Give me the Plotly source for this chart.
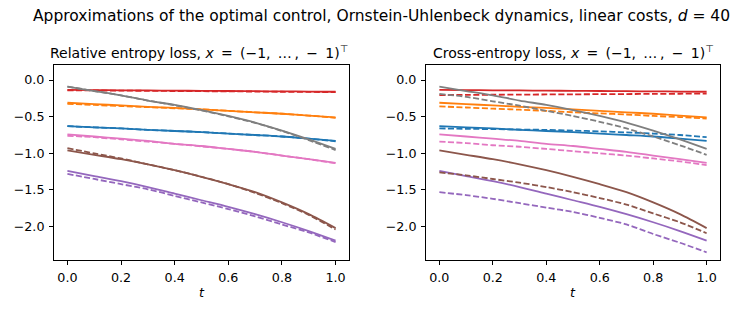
import plotly.graph_objects as go
from plotly.subplots import make_subplots

# time grid
t = [0.0, 0.1, 0.2, 0.3, 0.4, 0.5, 0.6, 0.7, 0.8, 0.9, 1.0]

# optimal control (solid), same in both panels
red = [-0.135, -0.137, -0.140, -0.142, -0.145, -0.147, -0.150, -0.152, -0.155, -0.157, -0.160]
orange = [-0.31, -0.33, -0.345, -0.365, -0.38, -0.40, -0.42, -0.44, -0.46, -0.485, -0.51]
blue = [-0.63, -0.645, -0.66, -0.68, -0.695, -0.71, -0.73, -0.75, -0.77, -0.80, -0.83]
pink = [-0.74, -0.77, -0.80, -0.83, -0.87, -0.90, -0.94, -0.98, -1.03, -1.08, -1.13]
brown = [-0.96, -1.02, -1.08, -1.15, -1.23, -1.32, -1.42, -1.53, -1.67, -1.83, -2.02]
purple = [-1.24, -1.31, -1.38, -1.46, -1.55, -1.64, -1.73, -1.83, -1.94, -2.06, -2.19]
gray = [-0.09, -0.15, -0.21, -0.28, -0.34, -0.41, -0.49, -0.58, -0.69, -0.81, -0.94]

# approximations, relative entropy loss (dashed, left)
re_red = [-0.14, -0.142, -0.145, -0.147, -0.15, -0.152, -0.155, -0.157, -0.16, -0.162, -0.165]
re_orange = [-0.325, -0.34, -0.355, -0.37, -0.385, -0.40, -0.42, -0.44, -0.46, -0.485, -0.515]
re_blue = [-0.63, -0.645, -0.66, -0.68, -0.695, -0.71, -0.73, -0.75, -0.77, -0.80, -0.835]
re_pink = [-0.76, -0.78, -0.81, -0.84, -0.87, -0.905, -0.94, -0.98, -1.03, -1.08, -1.135]
re_brown = [-0.93, -1.00, -1.07, -1.15, -1.23, -1.32, -1.42, -1.54, -1.68, -1.84, -2.04]
re_purple = [-1.28, -1.35, -1.42, -1.49, -1.58, -1.67, -1.76, -1.86, -1.97, -2.08, -2.21]
re_gray = [-0.09, -0.15, -0.21, -0.28, -0.345, -0.415, -0.495, -0.585, -0.695, -0.82, -0.955]

# approximations, cross-entropy loss (dashed, right)
ce_red = [-0.205, -0.203, -0.201, -0.199, -0.197, -0.195, -0.193, -0.191, -0.189, -0.187, -0.185]
ce_orange = [-0.36, -0.375, -0.39, -0.405, -0.42, -0.44, -0.455, -0.47, -0.49, -0.505, -0.525]
ce_blue = [-0.66, -0.665, -0.67, -0.675, -0.68, -0.69, -0.70, -0.715, -0.73, -0.75, -0.78]
ce_pink = [-0.84, -0.86, -0.89, -0.91, -0.94, -0.97, -1.00, -1.03, -1.07, -1.11, -1.16]
ce_brown = [-1.26, -1.30, -1.35, -1.40, -1.46, -1.53, -1.61, -1.70, -1.82, -1.94, -2.09]
ce_purple = [-1.53, -1.57, -1.62, -1.68, -1.74, -1.80, -1.88, -1.97, -2.10, -2.22, -2.35]
ce_gray = [-0.19, -0.23, -0.29, -0.35, -0.42, -0.49, -0.57, -0.66, -0.77, -0.89, -1.02]

colors = ["#1f77b4", "#ff7f0e", "#d62728", "#9467bd", "#8c564b", "#e377c2", "#7f7f7f"]
solid = [blue, orange, red, purple, brown, pink, gray]
left_dash = [re_blue, re_orange, re_red, re_purple, re_brown, re_pink, re_gray]
right_dash = [ce_blue, ce_orange, ce_red, ce_purple, ce_brown, ce_pink, ce_gray]

FONT = "DejaVu Sans"
TS = "\u2009"  # thin space, mathtext spacing is a bit wider
xvec = ("<i>x</i> " + TS + "= " + TS + "(\u22121, " + TS + "\u2026" + TS + ", " + TS
        + "\u2212 " + TS + "1)<sup>\u22a4</sup>")

fig = make_subplots(rows=1, cols=2)

for col, dashed in [(1, left_dash), (2, right_dash)]:
    for c, s, d in zip(colors, solid, dashed):
        fig.add_trace(go.Scatter(x=t, y=d, mode="lines",
                                 line=dict(color=c, width=1.8, dash="6px,2.5px",
                                           shape="spline", smoothing=0.8)), row=1, col=col)
        fig.add_trace(go.Scatter(x=t, y=s, mode="lines",
                                 line=dict(color=c, width=1.8, shape="spline", smoothing=0.8)),
                      row=1, col=col)

axis_style = dict(showgrid=False, zeroline=False, showline=True, mirror=True,
                  linecolor="black", linewidth=1, ticks="outside", ticklen=4,
                  tickcolor="black", ticklabelstandoff=2,
                  tickfont=dict(family=FONT, size=12.7, color="black"))

for col in (1, 2):
    fig.update_xaxes(axis_style, range=[-0.05, 1.05], tickvals=[0, 0.2, 0.4, 0.6, 0.8, 1.0],
                     tickformat=".1f", row=1, col=col)
    fig.update_yaxes(axis_style, range=[-2.455, 0.205],
                     tickvals=[0, -0.5, -1.0, -1.5, -2.0],
                     ticktext=["0.0", "\u22120.5", "\u22121.0", "\u22121.5", "\u22122.0"],
                     row=1, col=col)

fig.update_layout(
    width=747, height=327,
    margin=dict(l=0, r=0, t=0, b=0),
    paper_bgcolor="white", plot_bgcolor="white",
    showlegend=False, hovermode=False,
    xaxis=dict(domain=[54 / 747, 349 / 747]),
    xaxis2=dict(domain=[426 / 747, 720 / 747]),
    yaxis=dict(domain=[67 / 327, 262 / 327]),
    yaxis2=dict(domain=[67 / 327, 262 / 327]),
)

fig.add_annotation(text="Approximations of the optimal control, Ornstein-Uhlenbeck dynamics, linear costs, <i>d</i> = 40",
                   x=381 / 747, y=1 - 16 / 327, xref="paper", yref="paper",
                   showarrow=False, font=dict(family=FONT, size=15.5, color="black"),
                   xanchor="center", yanchor="middle")
sub_font = dict(family=FONT, size=14, color="black")
fig.add_annotation(text="Relative entropy loss, " + xvec,
                   x=199 / 747, y=1 - 52 / 327, xref="paper", yref="paper",
                   showarrow=False, font=sub_font, xanchor="center", yanchor="middle")
fig.add_annotation(text="Cross-entropy loss, " + xvec,
                   x=573 / 747, y=1 - 52 / 327, xref="paper", yref="paper",
                   showarrow=False, font=sub_font, xanchor="center", yanchor="middle")
for xc in (201.5, 573):
    fig.add_annotation(text="<i>t</i>", x=xc / 747, y=1 - 292 / 327, xref="paper", yref="paper",
                       showarrow=False, font=dict(family=FONT, size=12.7, color="black"),
                       xanchor="center", yanchor="middle")

fig.write_html("out.html", config={"displayModeBar": False},
               post_script="document.body.style.margin='0';")
